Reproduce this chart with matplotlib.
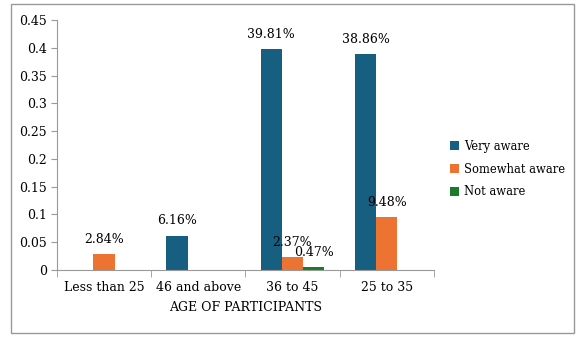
import matplotlib
matplotlib.use("Agg")
import matplotlib.pyplot as plt
import numpy as np
from matplotlib.patches import Rectangle

categories = ["Less than 25", "46 and above", "36 to 45", "25 to 35"]
series_names = ["Very aware", "Somewhat aware", "Not aware"]
very_aware = [0.0, 0.0616, 0.3981, 0.3886]
somewhat_aware = [0.0284, 0.0, 0.0237, 0.0948]
not_aware = [0.0, 0.0, 0.0047, 0.0]
colors = ["#175f80", "#ec7332", "#1c7a2c"]
yticks = [0, 0.05, 0.1, 0.15, 0.2, 0.25, 0.3, 0.35, 0.4, 0.45]

plt.rcParams['font.family'] = ['DejaVu Serif']
FS = 9

fig = plt.figure(figsize=(5.87, 3.42), dpi=100)
ax = fig.add_axes([0.097, 0.2105, 0.642, 0.731])

x = np.arange(len(categories))
w = 0.225
for i, (vals, name) in enumerate(zip([very_aware, somewhat_aware, not_aware], series_names)):
    pos = x + (i - 1) * w
    ax.bar(pos, vals, w, color=colors[i], label=name)
    for xp, v in zip(pos, vals):
        if v > 0:
            ax.annotate(f"{v*100:.2f}%", (xp, v), xytext=(0, 6), textcoords="offset points",
                        ha="center", va="bottom", fontsize=FS)

ax.set_xlim(-0.5, len(categories) - 0.5)
ax.set_ylim(0, 0.45)
ax.set_yticks(yticks)
ax.set_yticklabels([f"{t:g}" for t in yticks], fontsize=FS)
ax.set_xticks(x)
ax.set_xticklabels(categories, fontsize=FS)
ax.tick_params(axis="x", which="major", length=0, pad=8)
ax.set_xticks(np.arange(len(categories) + 1) - 0.5, minor=True)
ax.tick_params(axis="x", which="minor", length=5, color="#999999")
ax.tick_params(axis="y", length=4, color="#999999", pad=3)
for s in ["top", "right"]:
    ax.spines[s].set_visible(False)
for s in ["left", "bottom"]:
    ax.spines[s].set_color("#999999")
ax.set_xlabel("AGE OF PARTICIPANTS", fontsize=FS, labelpad=5)

ax.legend(loc="center left", bbox_to_anchor=(1.015, 0.404), frameon=False, fontsize=8.3,
          handlelength=0.8, handleheight=0.8, handletextpad=0.4, labelspacing=0.85)

fig.patches.append(Rectangle((11 / 587, 1 - 333 / 342), 563 / 587, 329 / 342,
                             transform=fig.transFigure, fill=False, edgecolor="#999999", lw=1))

fig.savefig("out.png", dpi=100)
